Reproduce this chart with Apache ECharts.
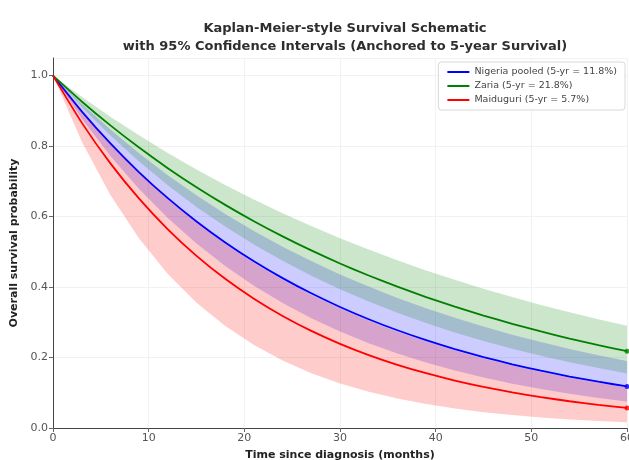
<!DOCTYPE html>
<html><head><meta charset="utf-8">
<script src="https://cdn.jsdelivr.net/npm/echarts@6/dist/echarts.min.js"></script>
<style>html,body{margin:0;padding:0;background:#fff}#c{width:629px;height:460px}</style>
</head><body><div id="c"></div>
<script>
const months = [0,3,6,9,12,15,18,21,24,27,30,33,36,39,42,45,48,51,54,57,60];
const xTicks = [0,10,20,30,40,50,60];
const yTicks = [0.0,0.2,0.4,0.6,0.8,1.0];

const pooled      = [1,.8987,.8076,.7257,.6522,.5861,.5267,.4733,.4254,.3822,.3435,.3087,.2774,.2493,.2240,.2013,.1809,.1626,.1461,.1313,.1180];
const pooledLow   = [1,.8785,.7718,.6780,.5957,.5233,.4597,.4039,.3548,.3117,.2739,.2406,.2114,.1857,.1631,.1433,.1259,.1106,.0972,.0854,.0750];
const pooledHigh  = [1,.9203,.8470,.7795,.7174,.6602,.6076,.5592,.5147,.4736,.4359,.4012,.3692,.3398,.3127,.2878,.2649,.2438,.2243,.2065,.1900];
const zaria       = [1,.9267,.8587,.7958,.7374,.6833,.6332,.5868,.5438,.5039,.4669,.4327,.4010,.3716,.3443,.3191,.2957,.2740,.2539,.2353,.2180];
const zariaLow    = [1,.9110,.8299,.7561,.6888,.6275,.5716,.5208,.4744,.4322,.3937,.3587,.3268,.2977,.2712,.2470,.2251,.2050,.1868,.1702,.1550];
const zariaHigh   = [1,.9400,.8836,.8305,.7807,.7338,.6898,.6484,.6095,.5729,.5385,.5062,.4758,.4472,.4204,.3952,.3715,.3492,.3282,.3085,.2900];
const maid        = [1,.8666,.7509,.6507,.5639,.4886,.4234,.3669,.3180,.2755,.2388,.2069,.1793,.1554,.1346,.1167,.1011,.0876,.0759,.0658,.0570];
const maidLow     = [1,.8132,.6613,.5378,.4373,.3556,.2892,.2352,.1912,.1555,.1265,.1028,.0836,.0680,.0553,.0450,.0366,.0297,.0242,.0197,.0160];
const maidHigh    = [1,.8975,.8055,.7230,.6489,.5823,.5227,.4691,.4210,.3779,.3391,.3044,.2732,.2452,.2200,.1975,.1772,.1591,.1428,.1281,.1150];

const names = ['Nigeria pooled (5-yr = 11.8%)','Zaria (5-yr = 21.8%)','Maiduguri (5-yr = 5.7%)'];
const groups = [
  {name:names[0], s:pooled, lo:pooledLow, hi:pooledHigh, line:'#0000ff', fill:'rgba(0,0,255,0.2)'},
  {name:names[1], s:zaria,  lo:zariaLow,  hi:zariaHigh,  line:'#008000', fill:'rgba(0,128,0,0.2)'},
  {name:names[2], s:maid,   lo:maidLow,   hi:maidHigh,   line:'#ff0000', fill:'rgba(255,0,0,0.2)'}
];
const pair = arr => months.map((m,i)=>[m,arr[i]]);
const series = [];
groups.forEach((g,gi)=>{
  series.push({type:'custom', silent:true, clip:true, z:gi*3+1,
    data:[[0,0]],
    renderItem:(params, api)=>{
      const pts = [];
      for (let i=0;i<months.length;i++) pts.push(api.coord([months[i], g.hi[i]]));
      for (let i=months.length-1;i>=0;i--) pts.push(api.coord([months[i], g.lo[i]]));
      return {type:'polygon', shape:{points:pts}, style:{fill:g.fill, stroke:null}};
    }});
  series.push({type:'line', name:g.name, data:pair(g.s), showSymbol:false, smooth:0.2,
    lineStyle:{color:g.line, width:1.8}, itemStyle:{color:g.line}, z:gi*3+2});
  series.push({type:'scatter', data:[[months[months.length-1], g.s[g.s.length-1]]], symbolSize:5,
    itemStyle:{color:g.line}, z:gi*3+3, silent:true});
});

const chart = echarts.init(document.getElementById('c'), null, {renderer:'canvas'});
const FF = 'DejaVu Sans';
chart.setOption({
  animation:false,
  backgroundColor:'#fff',
  textStyle:{fontFamily:FF},
  title:{text:'Kaplan-Meier-style Survival Schematic\nwith 95% Confidence Intervals (Anchored to 5-year Survival)',
    left:340, top:15, textAlign:'center',
    textStyle:{fontFamily:FF, fontSize:13, fontWeight:'bold', color:'#2e2e2e', lineHeight:18}},
  legend:{data:names, orient:'vertical', right:4, top:62, padding:[5,8,5,9], itemGap:4,
    itemWidth:22, itemHeight:2, icon:'rect',
    backgroundColor:'rgba(255,255,255,0.85)', borderColor:'#d8d8d8', borderWidth:1, borderRadius:3,
    textStyle:{fontFamily:FF, fontSize:9.5, color:'#444'}},
  grid:{left:53, right:2, top:58, bottom:32, containLabel:false, outerBoundsMode:'none'},
  xAxis:{type:'value', min:0, max:60, interval:10,
    name:'Time since diagnosis (months)', nameLocation:'middle', nameGap:22,
    nameTextStyle:{fontFamily:FF, fontSize:11, fontWeight:'bold', color:'#222'},
    axisLine:{show:true, lineStyle:{color:'#444', width:1}},
    axisTick:{show:true, length:4, lineStyle:{color:'#666'}},
    axisLabel:{fontFamily:FF, fontSize:11, color:'#555', margin:5,
      formatter:v=>xTicks.includes(v)?String(v):''},
    splitLine:{show:true, lineStyle:{color:'#f2f2f2', width:1}}},
  yAxis:{type:'value', min:0, max:1.05, interval:0.2,
    name:'Overall survival probability', nameLocation:'middle', nameGap:33,
    nameTextStyle:{fontFamily:FF, fontSize:11, fontWeight:'bold', color:'#222'},
    axisLine:{show:true, lineStyle:{color:'#444', width:1}},
    axisTick:{show:true, length:4, lineStyle:{color:'#666'}},
    axisLabel:{fontFamily:FF, fontSize:11, color:'#555', margin:5, showMaxLabel:false,
      formatter:v=>{const t=yTicks.find(y=>Math.abs(y-v)<1e-6);return t===undefined?'':t.toFixed(1);}},
    splitLine:{show:true, lineStyle:{color:'#f2f2f2', width:1}}},
  series:series
});
</script></body></html>
